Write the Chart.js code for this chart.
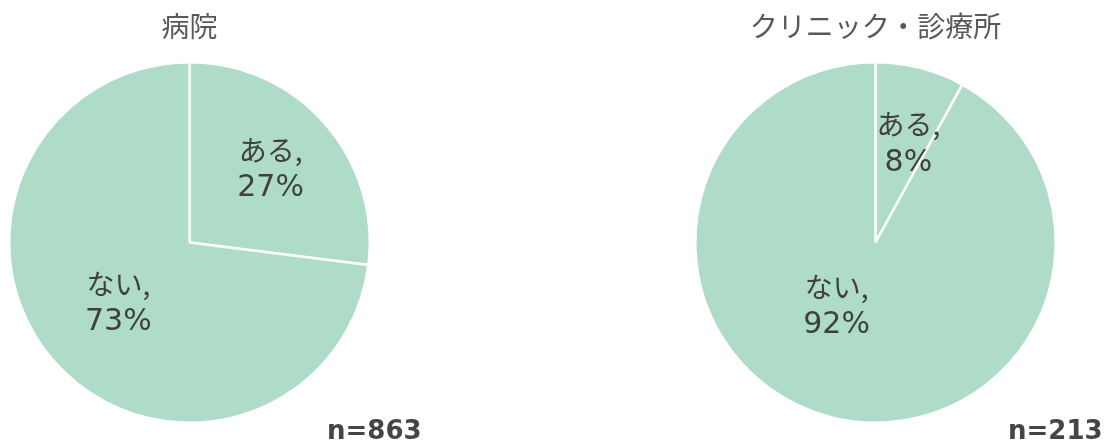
<!DOCTYPE html>
<html>
<head>
<meta charset="utf-8">
<script src="https://cdn.jsdelivr.net/npm/chart.js@4.4.0/dist/chart.umd.min.js"></script>
<style>
  body { margin: 0; background: #fff; width: 1107px; height: 443px; overflow: hidden; position: relative; }
  .box { position: absolute; top: 0; width: 378px; height: 443px; }
  .n { position: absolute; font-family: "DejaVu Sans", sans-serif; font-size: 26px; font-weight: bold; color: #454545; top: 415px; line-height: 30px; }
</style>
</head>
<body>
<div class="box" style="left:0"><canvas id="c1"></canvas></div>
<div class="box" style="left:686px"><canvas id="c2"></canvas></div>
<div class="n" id="n1" style="left:327px"></div>
<div class="n" id="n2" style="left:1008px"></div>
<script>
// data
const categories = ['ある', 'ない'];
const hospitalValues = [27, 73];
const clinicValues = [8, 92];
const titles = ['病院', 'クリニック・診療所'];
const sampleSizes = [863, 213];

const jpFont = '"Noto Sans CJK JP", sans-serif';
const numFont = '"DejaVu Sans", "Noto Sans CJK JP", sans-serif';

// draw "ある,\n27%" style labels on each slice
const sliceLabels = {
  id: 'sliceLabels',
  afterDatasetsDraw(chart, args, opts) {
    const ctx = chart.ctx;
    const meta = chart.getDatasetMeta(0);
    const vals = chart.data.datasets[0].data;
    ctx.save();
    ctx.fillStyle = '#404040';
    ctx.textAlign = 'center';
    ctx.textBaseline = 'middle';
    meta.data.forEach((arc, i) => {
      const mid = (arc.startAngle + arc.endAngle) / 2;
      const r = arc.outerRadius * opts.ratio;
      const off = opts.offsets[i] || [0, 0];
      const x = arc.x + Math.cos(mid) * r + off[0];
      const y = arc.y + Math.sin(mid) * r + off[1];
      ctx.font = '28px ' + jpFont;
      ctx.fillText(chart.data.labels[i] + ',', x, y - 19);
      ctx.font = '30px ' + numFont;
      ctx.fillText(vals[i] + '%', x, y + 19);
    });
    ctx.restore();
  }
};

function makePie(id, values, title, offsets) {
  new Chart(document.getElementById(id), {
    type: 'pie',
    data: {
      labels: categories,
      datasets: [{
        data: values,
        backgroundColor: '#aedcc8',
        borderColor: '#ffffff',
        borderWidth: 2.5
      }]
    },
    options: {
      responsive: true,
      maintainAspectRatio: false,
      animation: false,
      layout: { padding: { left: 8, right: 7, bottom: 19 } },
      plugins: {
        legend: { display: false },
        tooltip: { enabled: false },
        title: {
          display: true,
          text: title,
          color: '#595959',
          font: { family: jpFont, size: 28, weight: 'normal', lineHeight: 1.25 },
          padding: { top: 9, bottom: 17 }
        },
        sliceLabels: { ratio: 0.6, offsets: offsets }
      }
    },
    plugins: [sliceLabels]
  });
}

makePie('c1', hospitalValues, titles[0], [[0, -2], [10, -11]]);
makePie('c2', clinicValues, titles[1], [[6, 6], [-12, -41]]);

document.getElementById('n1').textContent = 'n=' + sampleSizes[0];
document.getElementById('n2').textContent = 'n=' + sampleSizes[1];
</script>
</body>
</html>
